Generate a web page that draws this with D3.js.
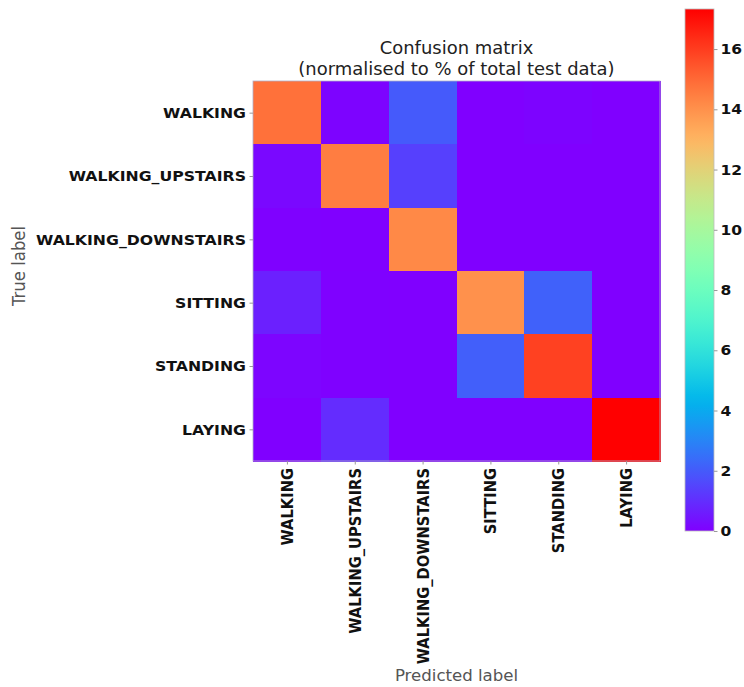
<!DOCTYPE html>
<html>
<head>
<meta charset="utf-8">
<script src="https://cdn.jsdelivr.net/npm/d3@7"></script>
<style>
  html, body { margin: 0; padding: 0; background: #fff; }
  svg { display: block; }
</style>
</head>
<body>
<svg id="chart" width="744" height="687"></svg>
<script>
// ---- data ----
const classes = ["WALKING", "WALKING_UPSTAIRS", "WALKING_DOWNSTAIRS", "SITTING", "STANDING", "LAYING"];
const rowWalking    = [14.8, 0.07, 2.0, 0, 0.07, 0];
const rowUpstairs   = [0.17, 14.5, 1.4, 0, 0, 0];
const rowDownstairs = [0.03, 0, 14.2, 0, 0, 0];
const rowSitting    = [0.7, 0.03, 0, 14.0, 2.15, 0];
const rowStanding   = [0.1, 0.03, 0, 2.1, 15.9, 0];
const rowLaying     = [0, 0.95, 0, 0, 0, 17.33];
const matrix = [rowWalking, rowUpstairs, rowDownstairs, rowSitting, rowStanding, rowLaying];
const colorbarTicks = [0, 2, 4, 6, 8, 10, 12, 14, 16];
const titleLines = ["Confusion matrix", "(normalised to % of total test data)"];
const xLabel = "Predicted label";
const yLabel = "True label";

// ---- colormap (matplotlib "rainbow") ----
function rainbow(t) {
  t = Math.max(0, Math.min(1, t));
  const r = Math.min(1, Math.abs(2 * t - 0.5));
  const g = Math.sin(Math.PI * t);
  const b = Math.cos(Math.PI / 2 * t);
  return d3.rgb(r * 255, g * 255, b * 255).formatHex();
}

const vmax = d3.max(matrix.flat());
const color = d3.scaleSequential(rainbow).domain([0, vmax]);

const svg = d3.select("#chart");
const font = "'DejaVu Sans', sans-serif";
const SX = 1.07; // horizontal stretch of the original figure

// ---- layout ----
const hm = { left: 253, right: 660, top: 81, bottom: 461 };
const x = d3.scaleBand().domain(d3.range(classes.length)).range([hm.left, hm.right]);
const y = d3.scaleBand().domain(d3.range(classes.length)).range([hm.top, hm.bottom]);

// cells
const cells = [];
matrix.forEach((row, i) => row.forEach((v, j) => cells.push({ i, j, v })));
svg.append("g")
  .selectAll("rect")
  .data(cells)
  .join("rect")
  .attr("x", d => x(d.j))
  .attr("y", d => y(d.i))
  .attr("width", x.bandwidth() + 0.5)
  .attr("height", y.bandwidth() + 0.5)
  .attr("fill", d => color(d.v))
  .attr("shape-rendering", "crispEdges");

// frame
svg.append("rect")
  .attr("x", hm.left).attr("y", hm.top)
  .attr("width", hm.right - hm.left).attr("height", hm.bottom - hm.top)
  .attr("fill", "none").attr("stroke", "#b0b0c8").attr("stroke-width", 0.8);

// axes
const xAxis = d3.axisBottom(d3.scalePoint().domain(classes).range([hm.left + x.bandwidth() / 2, hm.right - x.bandwidth() / 2]))
  .tickSize(3.5).tickPadding(3.5);
const gx = svg.append("g").attr("transform", `translate(0,${hm.bottom})`).call(xAxis);
gx.select(".domain").remove();
gx.selectAll(".tick line").attr("stroke", "#999");
gx.selectAll(".tick text")
  .attr("font-family", font).attr("font-weight", "bold").attr("font-size", 14.7).attr("fill", "#111")
  .attr("transform", `scale(${SX},1) rotate(-90)`)
  .attr("text-anchor", "end")
  .attr("x", -7).attr("y", 0).attr("dy", "0.35em");

const yAxis = d3.axisLeft(d3.scalePoint().domain(classes).range([hm.top + y.bandwidth() / 2, hm.bottom - y.bandwidth() / 2]))
  .tickSize(3.5).tickPadding(3.5);
const gy = svg.append("g").attr("transform", `translate(${hm.left},0)`).call(yAxis);
gy.select(".domain").remove();
gy.selectAll(".tick line").attr("stroke", "#999");
gy.selectAll(".tick text")
  .attr("font-family", font).attr("font-weight", "bold").attr("font-size", 14.7).attr("fill", "#111")
  .attr("x", -7 / SX)
  .attr("transform", `scale(${SX},1)`);

// title
const cx = (hm.left + hm.right) / 2;
[54, 75].forEach((yy, k) => {
  svg.append("text")
    .attr("x", cx / SX).attr("y", yy)
    .attr("transform", `scale(${SX},1)`)
    .attr("text-anchor", "middle").attr("font-family", font).attr("font-size", 16.8).attr("fill", "#222")
    .text(titleLines[k]);
});

// axis labels
svg.append("text")
  .attr("transform", `scale(${SX},1) translate(${25 / SX},${(hm.top + hm.bottom) / 2 - 5}) rotate(-90)`)
  .attr("text-anchor", "middle").attr("font-family", font).attr("font-size", 16.5).attr("fill", "#555")
  .text(yLabel);
svg.append("text")
  .attr("x", cx / SX).attr("y", 681)
  .attr("transform", `scale(${SX},1)`)
  .attr("text-anchor", "middle").attr("font-family", font).attr("font-size", 15.5).attr("fill", "#555")
  .text(xLabel);

// ---- colorbar ----
const cb = { left: 685, right: 714, top: 9, bottom: 531 };
const cbScale = d3.scaleLinear().domain([0, vmax]).range([cb.bottom, cb.top]);
const defs = svg.append("defs");
const grad = defs.append("linearGradient").attr("id", "cbgrad")
  .attr("x1", 0).attr("y1", 1).attr("x2", 0).attr("y2", 0);
grad.selectAll("stop")
  .data(d3.range(0, 1.0001, 0.02))
  .join("stop")
  .attr("offset", d => d)
  .attr("stop-color", d => color(d * vmax));
svg.append("rect")
  .attr("x", cb.left).attr("y", cb.top)
  .attr("width", cb.right - cb.left).attr("height", cb.bottom - cb.top)
  .attr("fill", "url(#cbgrad)")
  .attr("stroke", "#bbb").attr("stroke-width", 0.8);
const cbAxis = d3.axisRight(cbScale).tickValues(colorbarTicks).tickFormat(d3.format("d"))
  .tickSize(3.5).tickPadding(3);
const gcb = svg.append("g").attr("transform", `translate(${cb.right},0)`).call(cbAxis);
gcb.select(".domain").remove();
gcb.selectAll(".tick line").attr("stroke", "#999");
gcb.selectAll(".tick text")
  .attr("font-family", font).attr("font-weight", "bold").attr("font-size", 14.5).attr("fill", "#111")
  .attr("x", 6.5 / SX)
  .attr("transform", `scale(${SX},1)`);
</script>
</body>
</html>
